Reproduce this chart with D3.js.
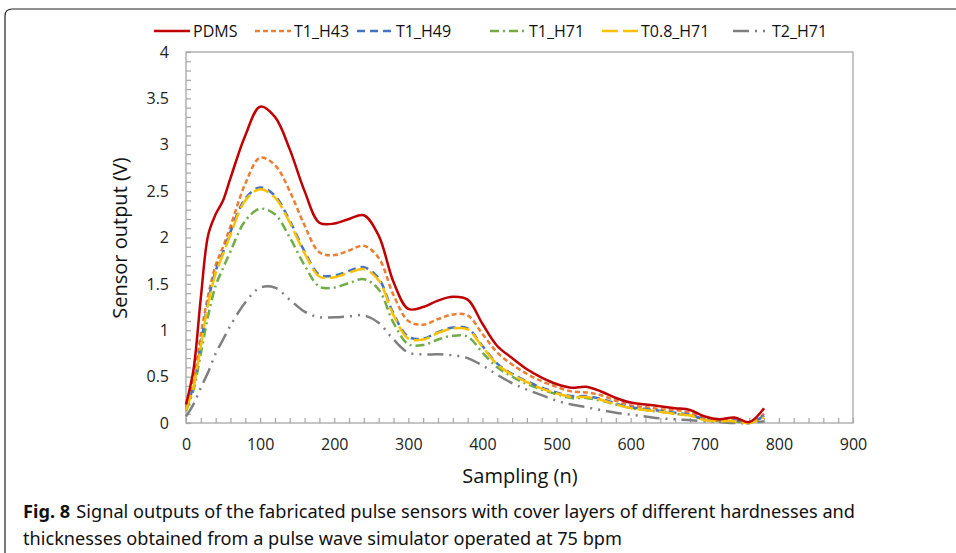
<!DOCTYPE html>
<html>
<head>
<meta charset="UTF-8">
<title>Fig. 8 Sensor output</title>
<script src="https://d3js.org/d3.v7.min.js"></script>
<style>
    body { margin: 0; background: #fff; font-family: "Open Sans", sans-serif; }
    .tick text { font-family: "Open Sans", sans-serif; font-size: 16px; fill: #222; }
</style>
</head>
<body>
<svg width="956" height="553"></svg>
<script>
// data
const sampling = [0, 10, 20, 30, 40, 50, 60, 80, 100, 120, 140, 160, 180, 200, 220, 240, 260, 280, 300, 320, 340, 360, 380, 400, 420, 440, 460, 480, 500, 520, 540, 560, 580, 600, 620, 640, 660, 680, 700, 720, 740, 760, 780];
const pdms    = [0.20, 0.57, 1.35, 2.03, 2.25, 2.40, 2.64, 3.10, 3.41, 3.30, 2.95, 2.50, 2.16, 2.15, 2.20, 2.24, 2.02, 1.52, 1.23, 1.25, 1.32, 1.36, 1.33, 1.07, 0.83, 0.70, 0.58, 0.49, 0.42, 0.38, 0.39, 0.34, 0.27, 0.22, 0.20, 0.18, 0.16, 0.14, 0.07, 0.04, 0.06, 0.01, 0.16];
const t1h43   = [0.17, 0.45, 0.95, 1.38, 1.70, 1.90, 2.12, 2.58, 2.86, 2.78, 2.50, 2.13, 1.84, 1.81, 1.86, 1.91, 1.78, 1.38, 1.10, 1.06, 1.12, 1.17, 1.16, 0.96, 0.76, 0.63, 0.53, 0.45, 0.39, 0.34, 0.33, 0.30, 0.24, 0.19, 0.17, 0.15, 0.14, 0.11, 0.05, 0.03, 0.04, 0.00, 0.10];
const t1h49   = [0.15, 0.40, 0.85, 1.32, 1.64, 1.84, 2.06, 2.42, 2.54, 2.45, 2.18, 1.85, 1.60, 1.59, 1.64, 1.68, 1.56, 1.18, 0.93, 0.91, 0.98, 1.03, 1.02, 0.83, 0.64, 0.53, 0.45, 0.38, 0.33, 0.29, 0.29, 0.26, 0.21, 0.17, 0.15, 0.13, 0.11, 0.09, 0.04, 0.02, 0.03, 0.00, 0.08];
const t1h71   = [0.13, 0.35, 0.75, 1.16, 1.48, 1.67, 1.85, 2.18, 2.31, 2.25, 2.00, 1.70, 1.47, 1.46, 1.51, 1.55, 1.44, 1.08, 0.85, 0.84, 0.90, 0.94, 0.93, 0.76, 0.60, 0.50, 0.42, 0.36, 0.31, 0.27, 0.27, 0.24, 0.20, 0.16, 0.14, 0.12, 0.10, 0.08, 0.04, 0.02, 0.02, 0.00, 0.07];
const t08h71  = [0.14, 0.39, 0.83, 1.29, 1.61, 1.82, 2.03, 2.40, 2.52, 2.43, 2.16, 1.83, 1.58, 1.57, 1.62, 1.66, 1.54, 1.16, 0.91, 0.90, 0.97, 1.02, 1.01, 0.82, 0.63, 0.52, 0.44, 0.37, 0.32, 0.28, 0.28, 0.25, 0.20, 0.16, 0.14, 0.12, 0.10, 0.08, 0.03, 0.02, 0.02, 0.00, 0.06];
const t2h71   = [0.07, 0.20, 0.38, 0.55, 0.75, 0.90, 1.05, 1.30, 1.46, 1.46, 1.33, 1.20, 1.14, 1.14, 1.15, 1.16, 1.08, 0.90, 0.76, 0.74, 0.74, 0.73, 0.70, 0.62, 0.52, 0.43, 0.36, 0.30, 0.24, 0.20, 0.17, 0.14, 0.11, 0.09, 0.07, 0.05, 0.04, 0.03, 0.02, 0.01, 0.00, 0.00, 0.02];

const seriesNames = ["PDMS", "T1_H43", "T1_H49", "T1_H71", "T0.8_H71", "T2_H71"];
const seriesValues = [pdms, t1h43, t1h49, t1h71, t08h71, t2h71];
const xTicks = [0, 100, 200, 300, 400, 500, 600, 700, 800, 900];
const yTicks = [0, 0.5, 1, 1.5, 2, 2.5, 3, 3.5, 4];

const colors = ["#C00000", "#ED7D31", "#4472C4", "#70AD47", "#FFC000", "#7F7F7F"];
const dashes = ["none", "5,3", "8,5", "9,4,2,4", "16,5", "16,6,2,6,2,6"];
// draw order: back to front
const drawOrder = [5, 3, 1, 2, 4, 0];

const svg = d3.select("svg");

// outer figure frame
svg.append("path")
    .attr("d", "M5,553 L5,16 Q5,9 12,9 L956,9")
    .attr("fill", "none")
    .attr("stroke", "#222")
    .attr("stroke-width", 1.2);

const margin = { top: 52, left: 186, right: 103, bottom: 130 };
const width = 956 - margin.left - margin.right;
const height = 553 - margin.top - margin.bottom;

const g = svg.append("g").attr("transform", `translate(${margin.left},${margin.top})`);

const x = d3.scaleLinear().domain([0, 900]).range([0, width]);
const y = d3.scaleLinear().domain([0, 4]).range([height, 0]);

// plot box
g.append("rect")
    .attr("width", width)
    .attr("height", height)
    .attr("fill", "none")
    .attr("stroke", "#A6A6A6")
    .attr("stroke-width", 1.3);

// minor ticks (inside)
g.append("g")
    .attr("transform", `translate(0,${height})`)
    .call(d3.axisBottom(x).tickValues(d3.range(0, 901, 20)).tickSize(-5).tickFormat(""))
    .call(a => a.select(".domain").remove())
    .call(a => a.selectAll("line").attr("stroke", "#A6A6A6").attr("stroke-width", 1.2));
g.append("g")
    .call(d3.axisLeft(y).tickValues(d3.range(0, 4.001, 0.1)).tickSize(-5).tickFormat(""))
    .call(a => a.select(".domain").remove())
    .call(a => a.selectAll("line").attr("stroke", "#A6A6A6").attr("stroke-width", 1.2));

// labelled axes
g.append("g")
    .attr("transform", `translate(0,${height})`)
    .call(d3.axisBottom(x).tickValues(xTicks).tickSize(0).tickPadding(16))
    .call(a => a.select(".domain").remove());
g.append("g")
    .call(d3.axisLeft(y).tickValues(yTicks).tickSize(0).tickPadding(17).tickFormat(d3.format("")))
    .call(a => a.select(".domain").remove());

// lines
const line = d3.line()
    .x((d, i) => x(sampling[i]))
    .y(d => y(d))
    .curve(d3.curveCatmullRom.alpha(0.5));

drawOrder.forEach(k => {
    g.append("path")
        .datum(seriesValues[k])
        .attr("d", line)
        .attr("fill", "none")
        .attr("stroke", colors[k])
        .attr("stroke-width", 2.5)
        .attr("stroke-dasharray", dashes[k]);
});

// axis titles
svg.append("text")
    .attr("transform", "translate(127,238) rotate(-90)")
    .attr("text-anchor", "middle")
    .style("font-size", "20px")
    .style("fill", "#111")
    .text("Sensor output (V)");
svg.append("text")
    .attr("x", 520)
    .attr("y", 483)
    .attr("text-anchor", "middle")
    .style("font-size", "20px")
    .style("fill", "#111")
    .text("Sampling (n)");

// legend
const legendX = [154, 255, 357, 490, 602, 733];
const legend = svg.append("g");
seriesNames.forEach((name, i) => {
    const item = legend.append("g").attr("transform", `translate(${legendX[i]},31)`);
    item.append("line")
        .attr("x1", 0).attr("x2", 36)
        .attr("stroke", colors[i])
        .attr("stroke-width", 2.5)
        .attr("stroke-dasharray", dashes[i]);
    item.append("text")
        .attr("x", 39)
        .attr("y", 5.5)
        .style("font-size", "16px")
        .style("fill", "#111")
        .text(name);
});

// caption
const cap1 = svg.append("text")
    .attr("x", 23).attr("y", 518)
    .style("font-family", "'Noto Sans', sans-serif")
    .style("font-size", "17.5px")
    .style("fill", "#111")
    .attr("textLength", 832)
    .attr("lengthAdjust", "spacingAndGlyphs");
cap1.append("tspan").style("font-weight", "bold").text("Fig. 8");
cap1.append("tspan").attr("dx", 6).text("Signal outputs of the fabricated pulse sensors with cover layers of different hardnesses and");
svg.append("text")
    .attr("x", 23).attr("y", 545)
    .style("font-family", "'Noto Sans', sans-serif")
    .style("font-size", "17.5px")
    .style("fill", "#111")
    .attr("textLength", 599)
    .attr("lengthAdjust", "spacingAndGlyphs")
    .text("thicknesses obtained from a pulse wave simulator operated at 75 bpm");
</script>
</body>
</html>
